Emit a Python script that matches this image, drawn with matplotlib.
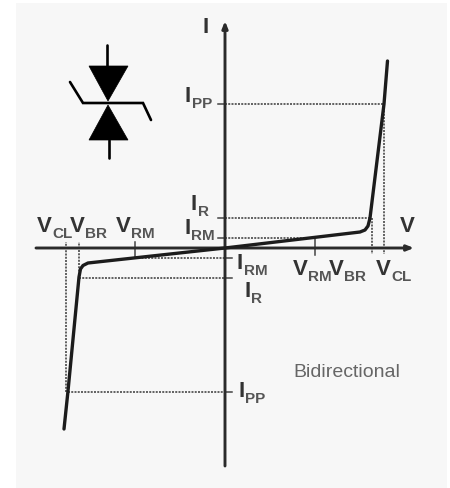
import matplotlib
matplotlib.use("Agg")
import matplotlib.pyplot as plt
from matplotlib.patches import Polygon, Rectangle

# I-V characteristic of a bidirectional TVS diode (arbitrary units, origin at axes crossing)
curve_v = [-161, -157, -146, -144.5, -142, -137, 0, 135, 140, 143, 145, 159, 162.5]
curve_i = [-181, -143, -29, -21, -17.5, -15, 0, 16, 18, 22, 30, 144, 187]

V_CL = 159
V_BR = 147
V_RM = 90
V_CL_N = -159
V_BR_N = -146
V_RM_N = -90
I_PP = 144
I_R = 30.5
I_RM = 10
I_PP_N = -144
I_R_N = -30
I_RM_N = -10

ink = "#2a2a2a"
dot = "#555555"
plt.rcParams["font.family"] = ["Liberation Sans", "DejaVu Sans"]

fig = plt.figure(figsize=(4.5, 4.89), dpi=100, facecolor="white")
ax = fig.add_axes([0, 0, 1, 1])
ax.set_xlim(-225, 225)
ax.set_ylim(-240, 249)
ax.axis("off")
ax.add_patch(Rectangle((-209, -240), 431, 485, fc="#f7f7f7", ec="none", zorder=0))

# guide lines
dots = dict(color=dot, lw=1.3, ls=(0, (1.1, 0.7)), zorder=2)
ax.plot([0, V_CL], [I_PP, I_PP], **dots)
ax.plot([0, V_BR - 2], [I_R, I_R], **dots)
ax.plot([0, V_RM], [I_RM, I_RM], **dots)
ax.plot([V_CL, V_CL], [I_PP, -6], **dots)
ax.plot([V_BR, V_BR], [I_R, -6], **dots)
ax.plot([V_CL_N, V_CL_N], [I_PP_N, 6], **dots)
ax.plot([V_BR_N, V_BR_N], [I_R_N, 6], **dots)
ax.plot([V_RM_N, 0], [I_RM_N, I_RM_N], **dots)
ax.plot([V_BR_N, 0], [I_R_N, I_R_N], **dots)
ax.plot([V_CL_N + 2, 0], [I_PP_N, I_PP_N], **dots)

# ticks
tick = dict(color="#444444", lw=1.1, zorder=2)
ax.plot([V_RM, V_RM], [-7, 9], **tick)
ax.plot([V_RM_N, V_RM_N], [-9, 6], **tick)
for y in (I_PP, I_R, I_RM):
    ax.plot([-7, 0], [y, y], **tick)
for y in (I_PP_N, I_R_N, I_RM_N):
    ax.plot([0, 7], [y, y], **tick)

# axes with arrows
ax.annotate("", xy=(189, 0), xytext=(-189, 0), zorder=3,
            arrowprops=dict(arrowstyle="-|>,head_length=0.4,head_width=0.16", color=ink, lw=2.1, shrinkA=0, shrinkB=0))
ax.annotate("", xy=(0, 227), xytext=(0, -218), zorder=3,
            arrowprops=dict(arrowstyle="-|>,head_length=0.4,head_width=0.16", color=ink, lw=2.1, shrinkA=0, shrinkB=0))

# characteristic
ax.plot(curve_v, curve_i, color="#1c1c1c", lw=2.4, solid_joinstyle="round", solid_capstyle="round", zorder=4)

# TVS symbol
sym = dict(color="black", lw=1.9, solid_capstyle="round", zorder=5)
ax.plot([-118, -118], [203, 182], **sym)
ax.plot([-116, -116], [108, 90], **sym)
ax.plot([-155, -142, -82, -74], [166, 145, 145, 128], solid_joinstyle="miter", **sym)
ax.add_patch(Polygon([(-136, 182), (-97, 182), (-117, 147)], fc="black", ec="black", lw=0.5, zorder=5))
ax.add_patch(Polygon([(-136, 108), (-97, 108), (-117, 143)], fc="black", ec="black", lw=0.5, zorder=5))

# labels: main letter, subscript, left edge and baseline
labels = [
    ("I", "", -22, 216),
    ("I", "PP", -40, 147),
    ("I", "R", -34, 39),
    ("I", "RM", -41, 15),
    ("V", "CL", -188, 17),
    ("V", "BR", -155, 17),
    ("V", "RM", -109, 17),
    ("V", "", 175, 17),
    ("I", "RM", 12, -20),
    ("I", "R", 19, -48),
    ("V", "RM", 68, -26),
    ("V", "BR", 104, -26),
    ("V", "CL", 151, -26),
    ("I", "PP", 13, -148),
]
for main, sub, x, y in labels:
    ax.text(x, y, main, fontsize=16, fontweight="bold", color="#333333", ha="left", va="baseline", zorder=6)
    if sub:
        adv = 15 if main == "V" else 7
        ax.text(x + adv, y - 6, sub, fontsize=11, fontweight="bold", color="#555555", ha="left", va="baseline", zorder=6)

ax.text(68, -128, "Bidirectional", fontsize=14, color="#666666", ha="left", va="baseline", zorder=6)

fig.savefig("out.png", dpi=100, facecolor="white")
